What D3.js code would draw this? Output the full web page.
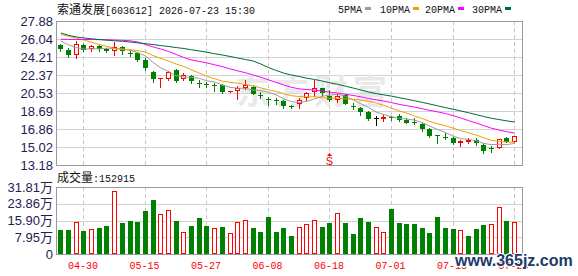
<!DOCTYPE html>
<html>
<head>
<meta charset="utf-8">
<script src="https://cdn.jsdelivr.net/npm/d3@7"></script>
<style>
  body { margin: 0; background: #fff; }
</style>
</head>
<body>
<svg id="chart"></svg>
<script>
// trading days shown (MM-DD), 2026
const dates = ["04-27","04-28","04-29","04-30","05-06","05-07","05-08","05-11","05-12","05-13",
  "05-14","05-15","05-18","05-19","05-20","05-21","05-22","05-25","05-26","05-27",
  "05-28","05-29","06-01","06-02","06-03","06-04","06-05","06-08","06-09","06-10",
  "06-11","06-12","06-15","06-16","06-17","06-18","06-22","06-23","06-24","06-25",
  "06-26","06-29","06-30","07-01","07-02","07-03","07-06","07-07","07-08","07-09",
  "07-10","07-13","07-14","07-15","07-16","07-17","07-20","07-21","07-22","07-23"];

const open = [25.43,24.92,24.41,25.43,25.02,25.33,24.99,24.82,25.23,24.61,
  24.58,23.90,22.67,21.99,21.93,22.88,21.96,22.30,21.58,21.48,
  21.35,21.35,20.63,20.77,21.07,21.14,20.36,19.92,19.85,19.71,
  19.16,19.38,19.99,20.60,21.01,20.26,19.79,20.33,19.24,19.03,
  18.56,17.95,17.85,18.06,18.18,17.78,17.55,17.37,16.82,16.24,
  16.08,15.97,15.46,15.56,15.70,15.22,14.92,14.95,15.90,15.50];
const high = [25.50,25.09,25.84,25.53,25.43,25.43,25.09,25.77,25.30,24.85,
  24.75,24.07,22.78,22.06,22.78,22.98,22.54,22.40,21.86,21.68,
  21.58,21.45,20.75,21.28,21.86,21.25,20.60,20.09,20.05,19.82,
  19.31,20.05,20.66,21.86,21.07,20.84,20.40,20.40,19.48,19.13,
  18.69,18.18,18.29,18.18,18.36,18.01,18.01,17.50,16.93,16.24,
  16.41,16.07,15.73,15.97,15.97,15.39,15.15,15.84,16.07,16.14];
const low = [24.85,24.17,24.07,24.82,24.85,24.85,24.75,24.41,24.51,24.31,
  23.83,22.85,21.68,21.17,21.86,21.65,21.86,21.58,21.14,21.11,
  20.77,20.50,20.60,19.95,20.91,20.40,20.05,19.31,19.41,18.97,
  18.97,19.03,19.82,20.26,20.33,19.71,19.58,19.38,18.90,18.29,
  17.78,17.26,17.67,17.78,17.67,17.44,17.34,16.65,16.07,15.46,
  15.84,15.33,15.15,15.46,15.22,14.38,14.54,14.89,15.50,15.50];
const close = [25.02,24.41,25.50,24.92,25.30,25.02,24.82,25.23,24.82,24.53,
  23.90,23.05,21.93,22.04,22.70,21.75,22.37,21.80,21.51,21.42,
  21.27,20.60,20.73,21.07,21.35,20.43,20.30,19.88,19.79,19.20,
  19.10,19.82,20.50,21.01,20.50,19.82,20.26,19.41,19.17,18.56,
  17.88,17.95,18.12,18.00,17.78,17.50,17.45,16.82,16.17,16.11,
  16.02,15.46,15.63,15.73,15.46,14.61,14.86,15.80,15.56,16.14];

// moving averages as drawn
const ma5 = [25.82,25.45,25.17,25.02,25.03,25.03,25.11,25.06,25.04,24.88,
  24.66,24.31,23.65,23.09,22.72,22.29,22.16,22.13,22.03,21.77,
  21.67,21.32,21.11,21.02,21.00,20.84,20.78,20.61,20.35,19.92,
  19.65,19.56,19.68,19.93,20.19,20.33,20.42,20.20,19.83,19.44,
  19.06,18.59,18.34,18.10,17.95,17.87,17.77,17.51,17.14,16.81,
  16.51,16.12,15.88,15.79,15.66,15.38,15.26,15.29,15.26,15.39];
const ma10 = [26.50,26.32,26.14,25.94,25.71,25.48,25.28,25.09,24.97,24.96,
  24.85,24.71,24.35,24.06,23.80,23.48,23.23,22.89,22.56,22.25,
  21.98,21.74,21.62,21.52,21.39,21.26,21.05,20.86,20.68,20.46,
  20.25,20.17,20.14,20.14,20.05,19.99,19.99,19.94,19.88,19.82,
  19.69,19.51,19.27,18.97,18.70,18.46,18.18,17.92,17.62,17.38,
  17.19,16.94,16.69,16.47,16.24,15.95,15.69,15.59,15.52,15.53];
const ma20 = [26.01,26.00,25.99,25.99,25.99,25.98,25.96,25.94,25.91,25.86,
  25.74,25.48,25.23,25.02,24.77,24.46,24.15,23.90,23.75,23.60,
  23.41,23.22,22.99,22.79,22.60,22.37,22.14,21.87,21.62,21.35,
  21.11,20.95,20.88,20.83,20.72,20.62,20.52,20.40,20.28,20.14,
  19.97,19.84,19.71,19.55,19.37,19.23,19.09,18.93,18.75,18.60,
  18.44,18.22,17.98,17.72,17.47,17.20,16.93,16.75,16.57,16.45];
const ma30 = [26.66,26.42,26.25,26.15,26.06,25.99,25.92,25.86,25.81,25.74,
  25.65,25.57,25.47,25.37,25.28,25.17,25.07,24.94,24.82,24.69,
  24.54,24.41,24.26,24.10,23.95,23.80,23.49,23.13,22.83,22.56,
  22.36,22.21,22.04,21.91,21.75,21.57,21.42,21.23,21.04,20.84,
  20.64,20.47,20.34,20.21,20.05,19.90,19.74,19.57,19.40,19.22,
  19.04,18.87,18.70,18.52,18.33,18.13,17.95,17.82,17.68,17.57];

// volume in 万 shares, and whether the bar is drawn red (hollow)
const volume = [11.5,11.5,15.1,11.0,11.8,12.4,13.4,29.8,14.8,15.7,
  15.3,20.5,25.7,18.9,20.8,15.7,10.4,13.4,17.2,13.4,
  12.4,12.9,9.9,15.1,16.1,12.4,10.5,17.6,10.5,12.4,
  8.7,12.8,14.2,16.1,12.9,14.8,19.4,14.8,9.6,17.2,
  15.3,12.8,10.4,21.4,14.8,14.3,14.3,12.4,10.1,17.6,
  12.4,12.0,11.3,8.7,12.0,13.9,14.2,22.2,15.7,15.2915];
const volRed = [0,0,1,0,1,0,0,1,0,0, 0,0,0,1,1,0,1,0,0,0,
  1,0,1,1,1,0,0,0,0,0, 0,1,1,1,0,0,1,0,0,0,
  0,1,1,0,0,0,0,0,0,0, 0,0,1,0,0,0,1,1,0,1];
const lastVolume = 152915;

const priceTicks = [13.18,15.02,16.86,18.69,20.53,22.37,24.21,26.04,27.88];
const volTicks = [0,7.95,15.90,23.86,31.81];
const labelDates = ["04-30","05-15","05-27","06-08","06-18","07-01","07-13","07-23"];
const signalDate = "06-18";

const maNames = ["5PMA","10PMA","20PMA","30PMA"];
const maColors = ["#9c9c9c","#f0a000","#ff00ff","#006b3a"];
const maSeries = [ma5, ma10, ma20, ma30];

// layout
const width = 578, height = 276;
const left = 56, right = 522;
const priceTop = 21, priceBottom = 165, volTop = 187, volBottom = 254;
const red = "#ff0000", green = "#008000";
const numFont = "'Liberation Sans', Arial, 'Noto Sans CJK SC', sans-serif";
const monoFont = "'Liberation Mono', 'DejaVu Sans Mono', monospace";
const cjkFont = "'Noto Sans CJK SC', sans-serif";

const svg = d3.select("#chart")
  .attr("width", width)
  .attr("height", height)
  .attr("viewBox", [0, 0, width, height]);

svg.append("rect").attr("width", width).attr("height", height).attr("fill", "#fff");

// scales
const x = d3.scaleBand().domain(dates).range([57, 518.4]);
const cx = d => x(d) + x.bandwidth() / 2;
const px = d => Math.round(cx(d) - 0.5);
const y = d3.scaleLinear([13.18, 27.88], [priceBottom, priceTop]);
const yv = d3.scaleLinear([0, 31.81], [volBottom, volTop]);
const crisp = v => Math.round(v) + 0.5;

// horizontal grid
svg.append("g").selectAll("line")
  .data(priceTicks)
  .join("line")
    .attr("x1", left).attr("x2", right)
    .attr("y1", d => crisp(y(d))).attr("y2", d => crisp(y(d)))
    .attr("stroke", "#d2d2d2");
svg.append("g").selectAll("line")
  .data(volTicks)
  .join("line")
    .attr("x1", left).attr("x2", right)
    .attr("y1", d => crisp(yv(d))).attr("y2", d => crisp(yv(d)))
    .attr("stroke", "#d2d2d2");

// vertical dashed grid, both panels
[[priceTop, priceBottom], [volTop, volBottom]].forEach(([t, b]) => {
  svg.append("g").selectAll("line")
    .data(labelDates)
    .join("line")
      .attr("x1", d => px(d) + 0.5).attr("x2", d => px(d) + 0.5)
      .attr("y1", t).attr("y2", b)
      .attr("stroke", "#c8c8c8")
      .attr("stroke-dasharray", "4,3");
});

// panel borders
svg.append("rect").attr("x", left + 0.5).attr("y", priceTop + 0.5)
  .attr("width", right - left).attr("height", priceBottom - priceTop)
  .attr("fill", "none").attr("stroke", "#9a9a9a");
svg.append("rect").attr("x", left + 0.5).attr("y", volTop + 0.5)
  .attr("width", right - left).attr("height", volBottom - volTop)
  .attr("fill", "none").attr("stroke", "#9a9a9a");

// faint watermark
svg.append("text")
  .attr("x", 236).attr("y", 104)
  .attr("font-family", cjkFont).attr("font-size", 34).attr("font-weight", "bold")
  .attr("letter-spacing", 5)
  .attr("fill", "#e9e9e9")
  .text("东方财富");

// candles
const candles = svg.append("g").selectAll("g")
  .data(dates.map((d, i) => ({ d, o: open[i], h: high[i], l: low[i], c: close[i] })))
  .join("g");

const candleColor = k => k.c > k.o ? red : (k.c < k.o ? green : "#000");

candles.append("line")
  .attr("x1", k => px(k.d) + 0.5).attr("x2", k => px(k.d) + 0.5)
  .attr("y1", k => Math.round(y(k.h))).attr("y2", k => Math.round(y(k.l)) + 1)
  .attr("stroke", candleColor);

candles.filter(k => k.c < k.o).append("rect")
  .attr("x", k => px(k.d) - 2)
  .attr("y", k => Math.round(y(k.o)))
  .attr("width", 5)
  .attr("height", k => Math.max(1, Math.round(y(k.c)) - Math.round(y(k.o))))
  .attr("fill", green);

candles.filter(k => k.c > k.o).append("rect")
  .attr("x", k => px(k.d) - 1.5)
  .attr("y", k => Math.round(y(k.c)) + 0.5)
  .attr("width", 4)
  .attr("height", k => Math.max(0.01, Math.round(y(k.o)) - Math.round(y(k.c)) - 1))
  .attr("fill", "#fff")
  .attr("stroke", red);

candles.filter(k => k.c === k.o).append("rect")
  .attr("x", k => px(k.d) - 2)
  .attr("y", k => Math.round(y(k.c)))
  .attr("width", 5).attr("height", 1)
  .attr("fill", "#000");

// moving averages
maSeries.forEach((s, j) => {
  svg.append("path")
    .datum(s)
    .attr("fill", "none")
    .attr("stroke", maColors[j])
    .attr("stroke-width", 1)
    .attr("d", d3.line().x((v, i) => cx(dates[i])).y(v => y(v)));
});

// sell signal marker
const sx = px(signalDate) + 0.5;
svg.append("path")
  .attr("d", `M${sx},153 L${sx + 2.5},156 L${sx - 2.5},156 Z`)
  .attr("fill", red);
svg.append("text")
  .attr("x", sx).attr("y", 165)
  .attr("text-anchor", "middle")
  .attr("font-family", numFont).attr("font-size", 11)
  .attr("fill", red)
  .text("S");

// volume bars
const bars = svg.append("g").selectAll("rect")
  .data(dates.map((d, i) => ({ d, v: volume[i], up: volRed[i] === 1 })))
  .join("rect");
bars.filter(b => !b.up)
  .attr("x", b => px(b.d) - 2)
  .attr("y", b => Math.round(yv(b.v)))
  .attr("width", 5)
  .attr("height", b => volBottom - Math.round(yv(b.v)))
  .attr("fill", green);
bars.filter(b => b.up)
  .attr("x", b => px(b.d) - 1.5)
  .attr("y", b => Math.round(yv(b.v)) + 0.5)
  .attr("width", 4)
  .attr("height", b => volBottom - Math.round(yv(b.v)) - 1)
  .attr("fill", "#fff")
  .attr("stroke", red);

// axes
svg.append("g")
  .attr("transform", `translate(${left},0)`)
  .call(d3.axisLeft(y).tickValues(priceTicks).tickFormat(d3.format(".2f")).tickSize(0).tickPadding(3))
  .call(g => g.select(".domain").remove())
  .call(g => g.attr("font-family", numFont).attr("font-size", 13))
  .call(g => g.selectAll("text").attr("fill", "#1d2350"));

svg.append("g")
  .attr("transform", `translate(${left},0)`)
  .call(d3.axisLeft(yv).tickValues(volTicks)
    .tickFormat(v => v === 0 ? "0" : v.toFixed(2) + "万").tickSize(0).tickPadding(3))
  .call(g => g.select(".domain").remove())
  .call(g => g.attr("font-family", numFont).attr("font-size", 13))
  .call(g => g.selectAll("text").attr("fill", "#1d2350"));

svg.append("g")
  .attr("transform", `translate(-1,${volBottom})`)
  .call(d3.axisBottom(x).tickValues(labelDates).tickSize(0).tickPadding(8))
  .call(g => g.select(".domain").remove())
  .call(g => g.attr("font-family", monoFont).attr("font-size", 10))
  .call(g => g.selectAll("text").attr("fill", red));

// title
const title = svg.append("text").attr("x", 57).attr("y", 14).attr("fill", "#111");
title.append("tspan").attr("font-family", cjkFont).attr("font-size", 12).text("索通发展");
title.append("tspan").attr("font-family", monoFont).attr("font-size", 10).text("[603612] 2026-07-23 15:30");

// legend
const legendX = [338, 380, 425, 472];
maNames.forEach((name, j) => {
  svg.append("text")
    .attr("x", legendX[j]).attr("y", 12.5)
    .attr("font-family", monoFont).attr("font-size", 10)
    .attr("fill", "#111")
    .text(name);
  svg.append("rect")
    .attr("x", legendX[j] + name.length * 6 + 3).attr("y", 7)
    .attr("width", 6).attr("height", 3)
    .attr("fill", maColors[j]);
});

// volume caption
const cap = svg.append("text").attr("x", 57).attr("y", 182).attr("fill", "#111");
cap.append("tspan").attr("font-family", cjkFont).attr("font-size", 12).text("成交量");
cap.append("tspan").attr("font-family", monoFont).attr("font-size", 10).text(":" + lastVolume);

// site mark
svg.append("text")
  .attr("x", 455).attr("y", 266)
  .attr("font-family", numFont).attr("font-size", 16).attr("font-weight", "bold")
  .attr("fill", "#22396b")
  .attr("stroke", "#fff").attr("stroke-width", 2).attr("paint-order", "stroke")
  .text("www.365jz.com");
</script>
</body>
</html>
